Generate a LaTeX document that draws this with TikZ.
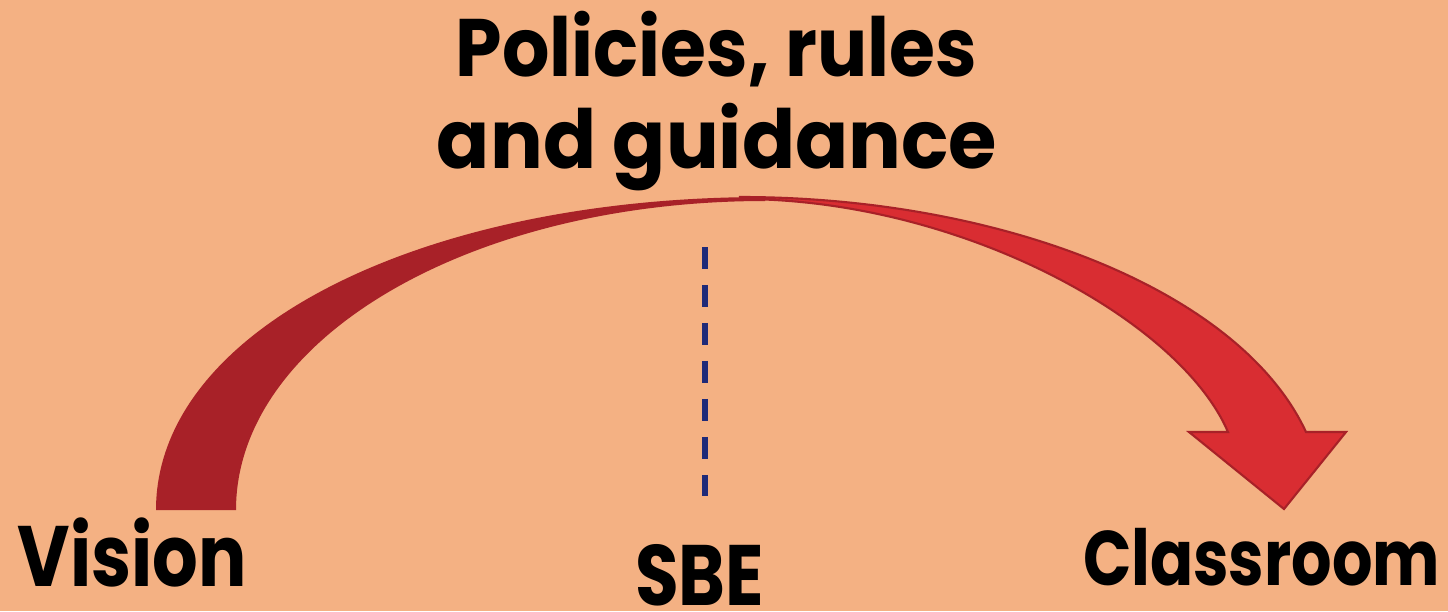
\documentclass[tikz,border=0pt]{standalone}
\usepackage{fontspec}
\setmainfont{Poppins}
\usepackage{graphicx}
\definecolor{bgpeach}{HTML}{F4B183}
\definecolor{darkarrow}{HTML}{A82128}
\definecolor{redarrow}{HTML}{D92D32}
\definecolor{dashnavy}{HTML}{1F2A78}
% stretch a word to a given width, height kept
\newcommand{\fitword}[3]{\resizebox{#1}{\height}{\fontsize{#2}{#2}\selectfont\bfseries #3}}

\begin{document}
\begin{tikzpicture}[thick, wordtxt/.style={inner sep=0pt, outer sep=0pt, text=black}]
        \useasboundingbox (0,0) rectangle (14.48,6.11);
        \fill [bgpeach] (0,0) rectangle (14.48,6.11);
        % bright half of the curved arrow, with its head
        \filldraw [fill=redarrow, draw=darkarrow, line width=0.6pt, line join=miter]
          (7.40,4.14) .. controls (10.00,4.14) and (12.40,3.21) .. (13.06,1.79)
          -- (13.46,1.79) -- (12.84,1.02) -- (11.89,1.79) -- (12.28,1.79)
          .. controls (11.80,2.91) and (9.60,4.12) .. (7.40,4.12) -- cycle;
        % dark half, from the tail
        \fill [darkarrow]
          (1.56,1.01) .. controls (1.56,2.81) and (4.20,4.14) .. (7.65,4.14)
          -- (7.65,4.10) .. controls (4.71,4.10) and (2.36,2.73) .. (2.36,1.01) -- cycle;
        % divider
        \coordinate (divtop) at (7.05,3.64);
        \coordinate (divbot) at (7.05,1.15);
        \draw [dashnavy, line width=1.5pt, dash pattern=on 6.2pt off 4.6pt] (divtop) -- (divbot);
        % words
        \node [wordtxt, anchor=base] (title1) at (7.165,5.35) {\fitword{5.21cm}{23.2}{Policies, rules}};
        \node [wordtxt, anchor=base] (title2) at (7.17,4.43) {\fitword{5.60cm}{23.2}{and guidance}};
        \node [wordtxt, anchor=base west] (vision) at (0.18,0.25) {\fitword{2.29cm}{24.4}{Vision}};
        \node [wordtxt, anchor=base west] (sbe) at (6.35,0.06) {\fitword{1.29cm}{24.4}{SBE}};
        \node [wordtxt, anchor=base west] (classroom) at (10.83,0.26) {\fitword{3.57cm}{22}{Classroom}};
      \end{tikzpicture}
\end{document}
